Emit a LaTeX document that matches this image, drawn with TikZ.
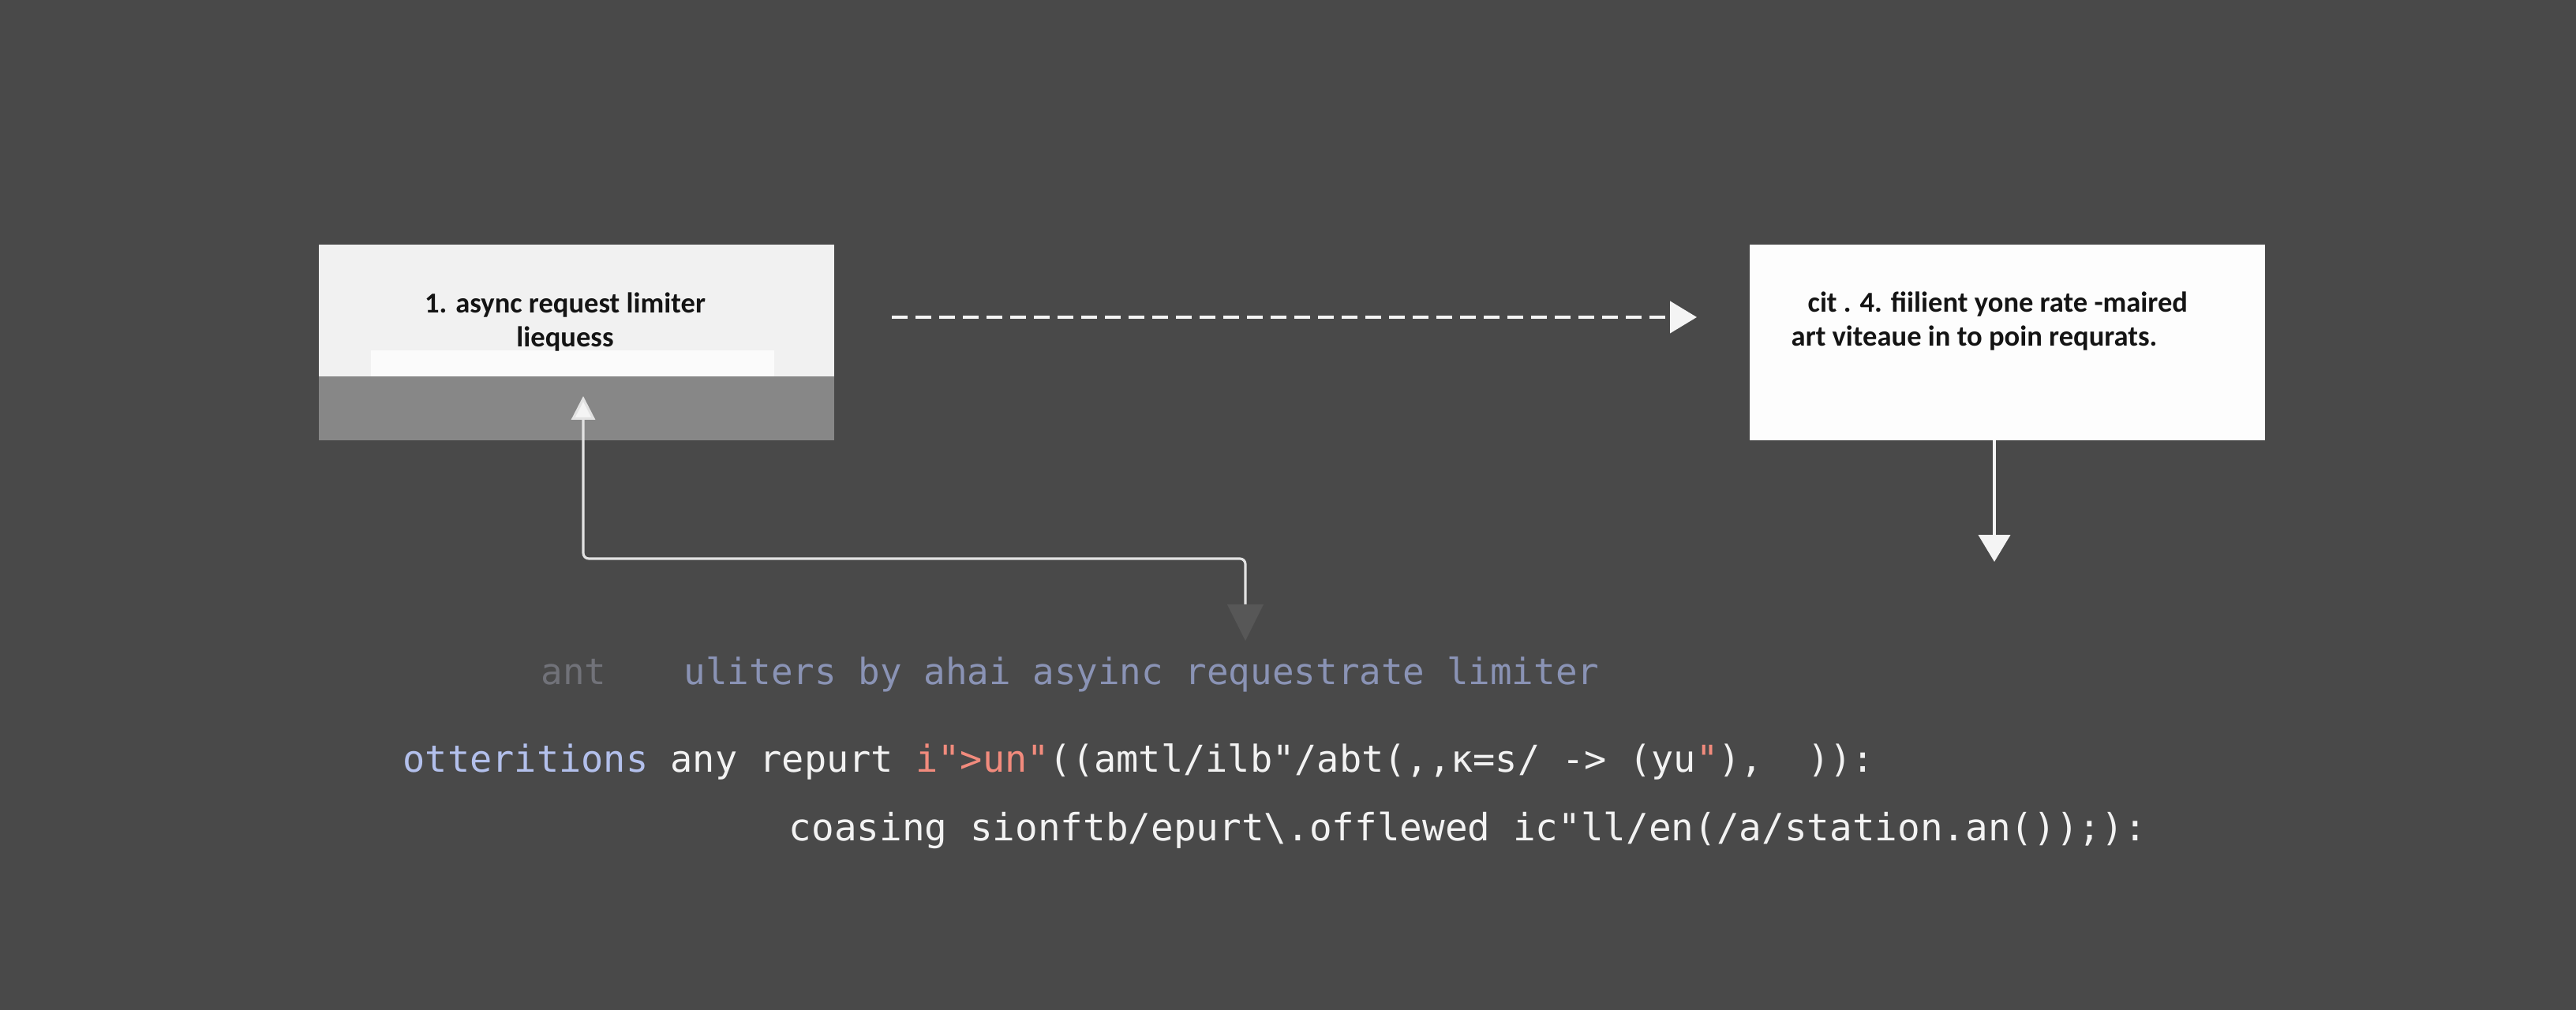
\documentclass[tikz,border=0pt]{standalone}
\usepackage{fontspec}
\setmonofont{DejaVu Sans Mono}
\newfontfamily\boxfont{Carlito}
\usetikzlibrary{arrows.meta,positioning}

\definecolor{canvas}{HTML}{494949}
\definecolor{boxwhite}{HTML}{F1F1F1}
\definecolor{boxglow}{HTML}{FBFBFB}
\definecolor{boxband}{HTML}{878787}
\definecolor{boxbright}{HTML}{FDFDFD}
\definecolor{boxink}{HTML}{141414}
\definecolor{flowline}{HTML}{F4F4F4}
\definecolor{backline}{HTML}{E2E2E2}
\definecolor{fadetip}{HTML}{575757}
\definecolor{dimcode}{HTML}{717279}
\definecolor{notecode}{HTML}{8A93B5}
\definecolor{keycode}{HTML}{B3C0EC}
\definecolor{plaincode}{HTML}{F2F2F2}
\definecolor{strcode}{HTML}{F28B7D}

\begin{document}
\begin{tikzpicture}[
		panel/.style={fill=boxwhite, inner sep=0pt, outer sep=0pt, minimum width=6.53cm, minimum height=1.67cm},
		boxtext/.style={text=boxink, inner sep=0pt, font=\boxfont\bfseries\fontsize{10.4}{12}\selectfont},
		code/.style={anchor=base west, inner sep=0pt, font=\ttfamily\fontsize{13.25}{15}\selectfont},
		flow/.style={draw=flowline, line width=1.2pt, -{Triangle[width=0.4cm,length=0.34cm]}},
		feedback/.style={draw=backline, line width=0.9pt, rounded corners=2pt, -{Triangle[width=0.3cm,length=0.3cm,fill=flowline]}},
		fade/.style={draw=fadetip, line width=0.1pt, -{Triangle[width=0.46cm,length=0.46cm]}}
	]
		\useasboundingbox (0,0) rectangle (32.64,12.8);
		\fill[canvas] (0,0) rectangle (32.64,12.8);

		%left box
		\node[panel, anchor=north west] (limiter) at (4.04,9.70) {};
		\node[panel, fill=boxband, minimum height=0.81cm, anchor=north] (limiterbase) at (limiter.south) {};
		\node[panel, fill=boxglow, minimum width=5.11cm, minimum height=0.33cm, anchor=south] (limiterglow) at ([xshift=-0.05cm]limiter.south) {};
		\node[boxtext, align=center] (limitertext) at (7.16,8.72) {1. async request limiter\\liequess};

		%right box
		\node[panel, fill=boxbright, minimum height=2.48cm, anchor=north west] (rategate) at (22.17,9.70) {};
		\node[boxtext, align=left, anchor=west] (rategatetext) at (22.69,8.73) {\hspace*{0.21cm}cit . 4. fiilient yone rate -maired\\art viteaue in to poin requrats.};

		%arrows
		\coordinate (dashfrom) at (11.30,8.78);
		\coordinate (dashto) at (21.50,8.78);
		\draw[flow, dash pattern=on 0.2cm off 0.1cm] (dashfrom) -- (dashto);

		\coordinate (rateout) at (25.27,5.68);
		\draw[flow, line width=1pt] (rategate.south -| rateout) -- (rateout);

		\coordinate (loopstart) at (15.78,5.14);
		\coordinate (loopturn) at (15.78,5.72);
		\coordinate (looptip) at (7.39,7.78);
		\draw[feedback] (loopstart) -- (loopturn) -| (looptip);
		\coordinate (loopend) at (15.78,4.68);
		\draw[fade] (loopstart) -- (loopend);

		%code
		\node[code, text=dimcode, font=\ttfamily\fontsize{13.05}{15}\selectfont] (codeant) at (6.85,4.12) {ant};
		\node[code, text=notecode, font=\ttfamily\fontsize{13.05}{15}\selectfont] (codenote) at (8.66,4.12) {uliters by ahai asyinc requestrate limiter};
		\node[code, text=plaincode, font=\ttfamily\fontsize{13.35}{15}\selectfont] (codeline) at (5.10,3.01) {\textcolor{keycode}{otteritions} any repurt \textcolor{strcode}{i">un"}((amtl/ilb"/abt(,,κ=s/ -> (yu\textcolor{strcode}{"}),\ \ )):};
		\node[code, text=plaincode, font=\ttfamily\fontsize{13.55}{15}\selectfont] (codenext) at (9.99,2.14) {coasing sionftb/epurt\textbackslash.offlewed ic"ll/en(/a/station.an());):};
	\end{tikzpicture}
\end{document}
